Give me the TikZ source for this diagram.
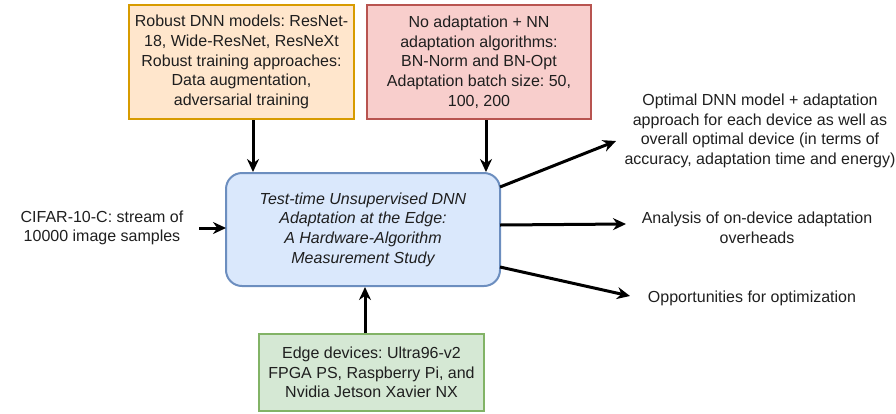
\documentclass[tikz,border=0pt]{standalone}
\usepackage{fontspec}
\setmainfont{Liberation Sans}
\usetikzlibrary{arrows.meta}
\definecolor{orfill}{HTML}{FFE6CC}\definecolor{ordraw}{HTML}{D79B00}
\definecolor{rdfill}{HTML}{F8CECC}\definecolor{rddraw}{HTML}{B85450}
\definecolor{blfill}{HTML}{DAE8FC}\definecolor{bldraw}{HTML}{6C8EBF}
\definecolor{grfill}{HTML}{D5E8D4}\definecolor{grdraw}{HTML}{82B366}
\begin{document}
\frenchspacing
\begin{tikzpicture}[x=1pt,y=-1pt,
  txt/.style={font=\fontsize{16}{19.7}\selectfont, align=center, text=black!88},
  boxo/.style={draw, line width=2pt, inner sep=0pt},
  arr/.style={-{Stealth[length=13pt,width=12pt]}, line width=3pt, black}]
\useasboundingbox (0,0) rectangle (896,413);
% boxes
\path[boxo, fill=orfill, draw=ordraw] (129,5) rectangle (354,119);
\node[txt] (orange) at (241.5,62) {Robust DNN models: ResNet-\\18, Wide-ResNet, ResNeXt\\Robust training approaches:\\Data augmentation,\\adversarial training};
\path[boxo, fill=rdfill, draw=rddraw] (367,5) rectangle (591,119);
\node[txt] (red) at (479,62) {No adaptation + NN\\adaptation algorithms:\\BN-Norm and BN-Opt\\Adaptation batch size: 50,\\100, 200};
\path[boxo, fill=blfill, draw=bldraw, rounded corners=16pt] (226,173) rectangle (500,286);
\node[txt, font=\fontsize{16}{19.7}\selectfont\itshape] (center) at (363,229.5) {Test-time Unsupervised DNN\\Adaptation at the Edge:\\A Hardware-Algorithm\\Measurement Study};
\path[boxo, fill=grfill, draw=grdraw] (259,334) rectangle (484,411);
\node[txt] (green) at (371.5,372.5) {Edge devices: Ultra96-v2\\FPGA PS, Raspberry Pi, and\\Nvidia Jetson Xavier NX};
\node[txt] (cifar) at (102,228) {CIFAR-10-C: stream of\\10000 image samples};
\node[txt] (out1) at (760,131) {Optimal DNN model + adaptation\\approach for each device as well as\\overall optimal device (in terms of\\accuracy, adaptation time and energy)};
\node[txt] (out2) at (757,228) {Analysis of on-device adaptation\\overheads};
\node[txt] (out3) at (752,298) {Opportunities for optimization};
% anchor coordinates
\coordinate (oS) at (253,120); \coordinate (cN1) at (253,172);
\coordinate (rS) at (486,120); \coordinate (cN2) at (486,172);
\coordinate (gN) at (365,333); \coordinate (cS) at (365,287);
\coordinate (cfE) at (199,228); \coordinate (cW) at (226,228);
\coordinate (cE1) at (500,187); \coordinate (o1W) at (616,141);
\coordinate (cE2) at (500,225); \coordinate (o2W) at (626,224);
\coordinate (cE3) at (500,267); \coordinate (o3W) at (630,296);
\draw[arr] (oS) -- (cN1);
\draw[arr] (rS) -- (cN2);
\draw[arr] (gN) -- (cS);
\draw[arr] (cfE) -- (cW);
\draw[arr] (cE1) -- (o1W);
\draw[arr] (cE2) -- (o2W);
\draw[arr] (cE3) -- (o3W);
\end{tikzpicture}
\end{document}
